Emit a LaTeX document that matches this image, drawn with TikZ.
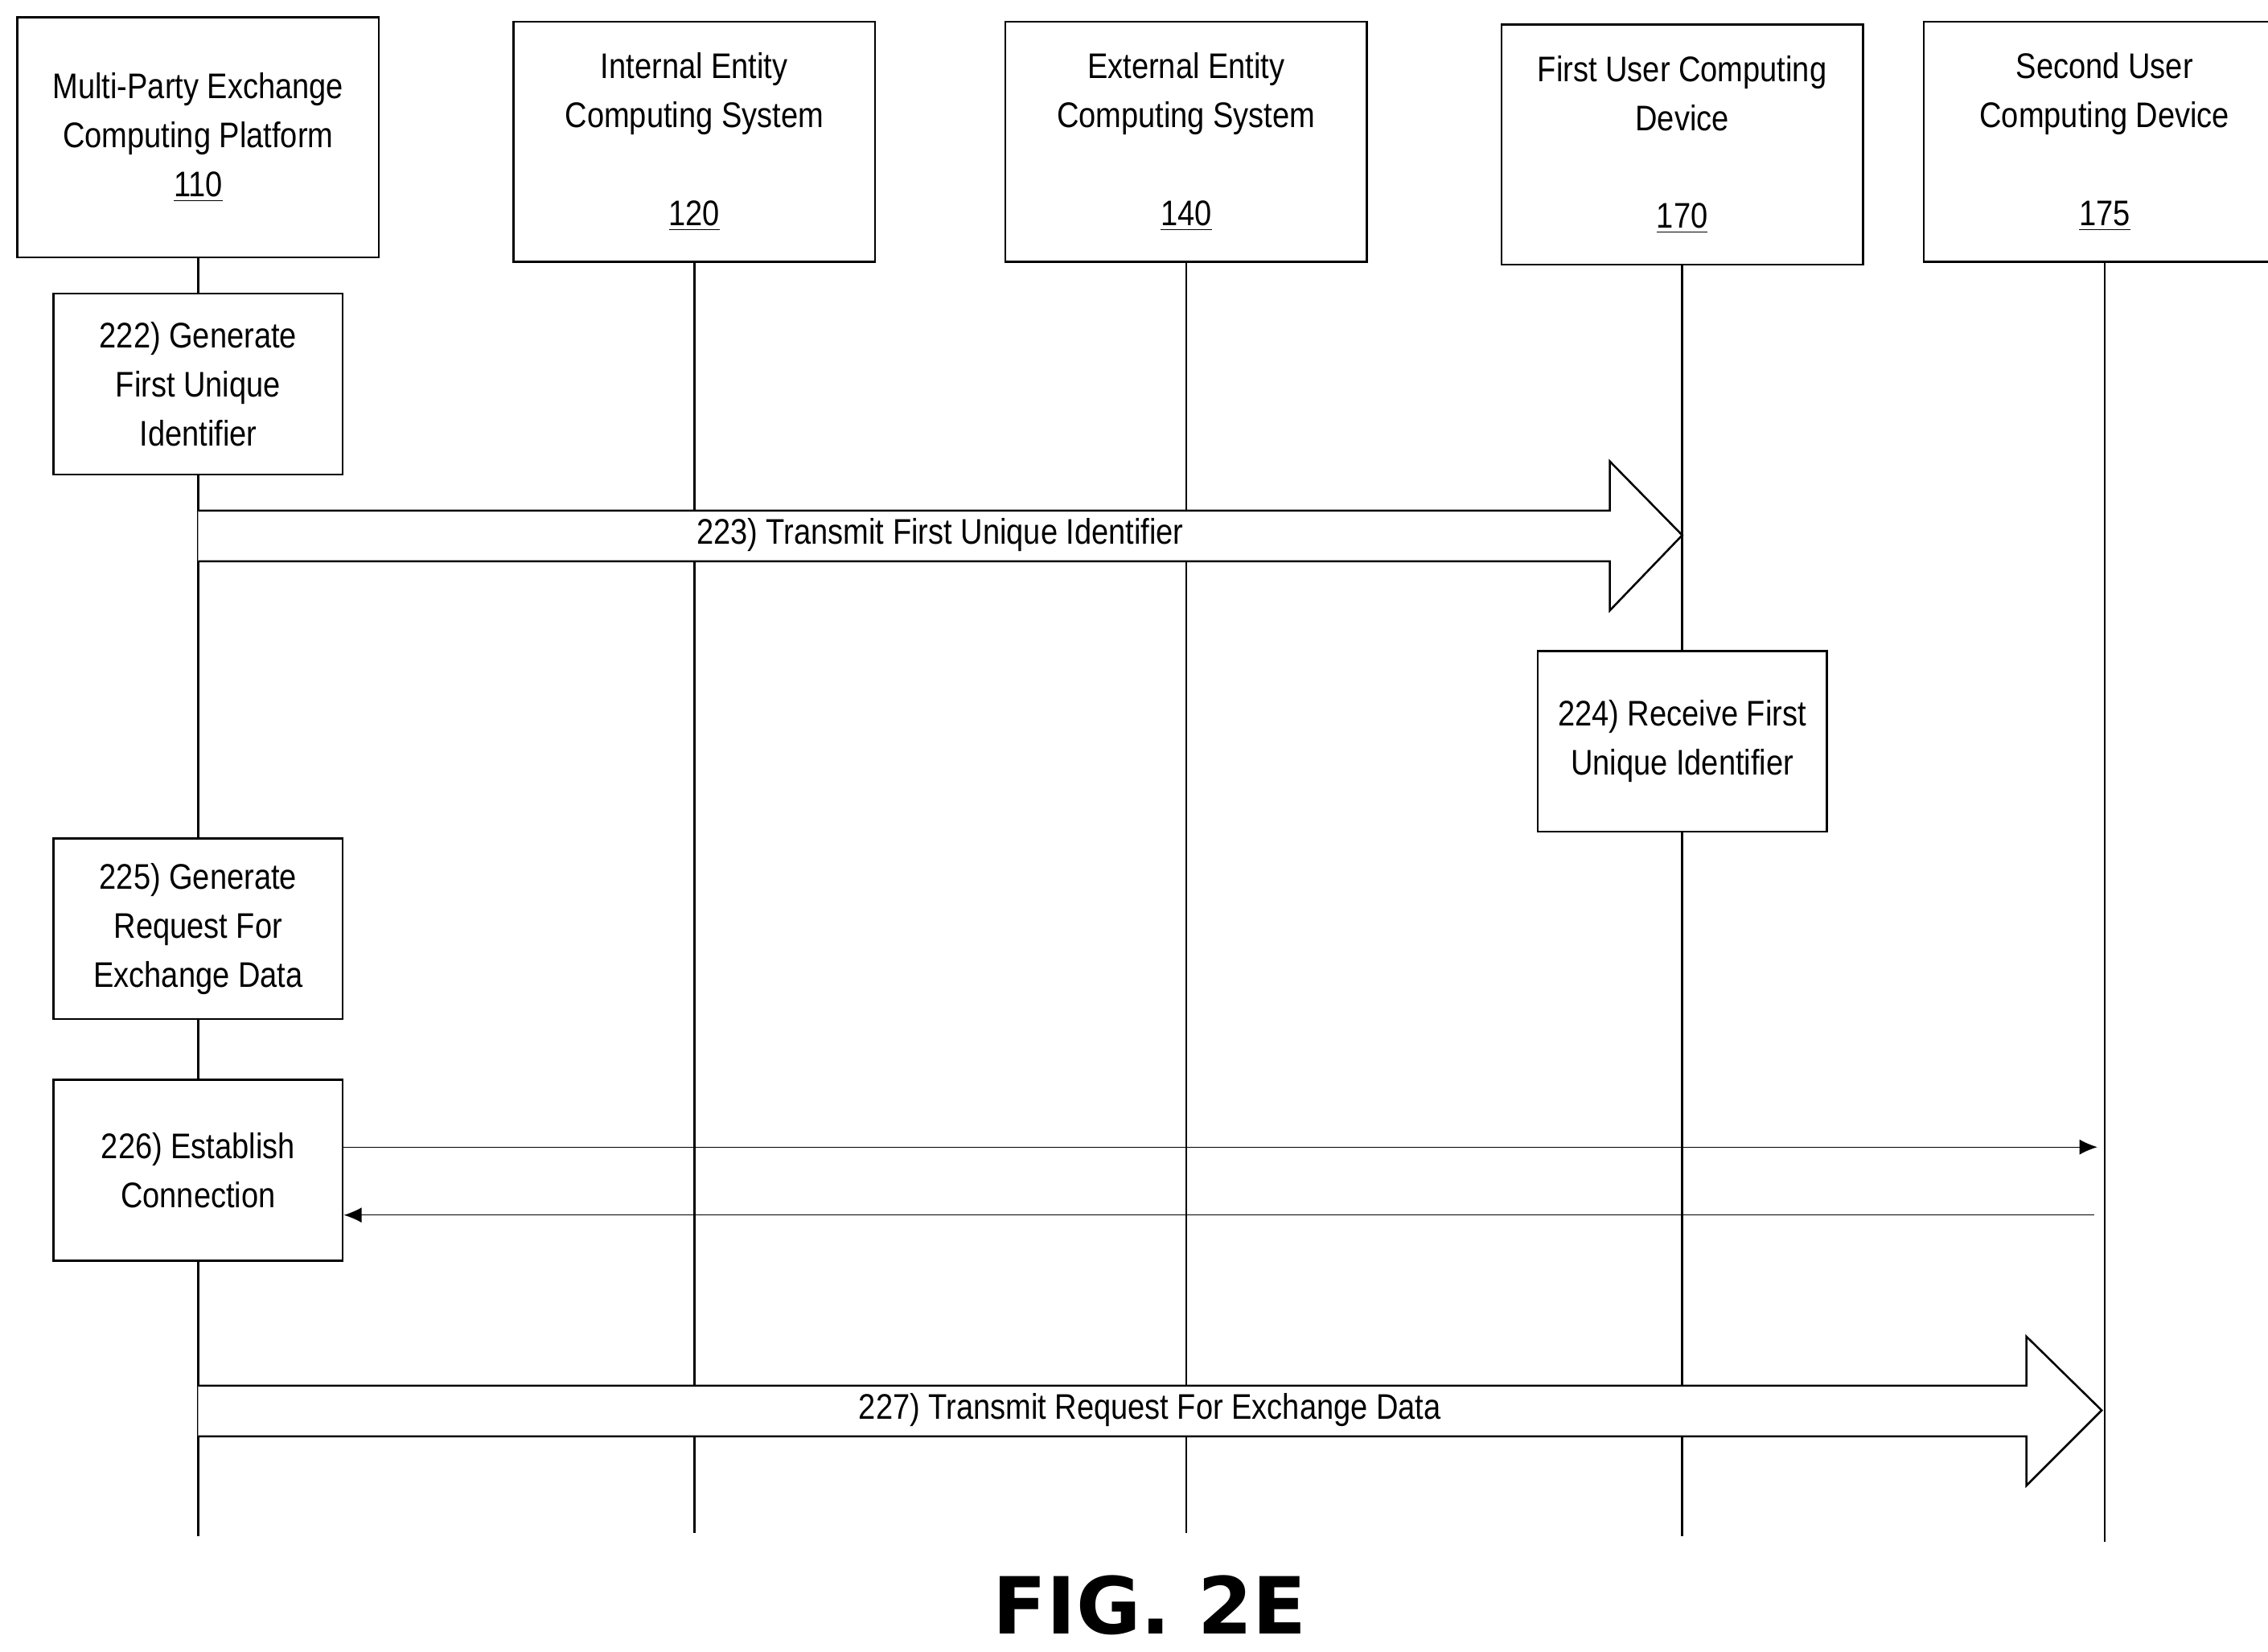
\documentclass[tikz,border=0pt]{standalone}
\usepackage{fontspec}
\setmainfont{Liberation Sans}[FakeStretch=0.86]
\newfontfamily\figfont{DejaVu Sans}
\usetikzlibrary{arrows.meta,calc}
\begin{document}
\begin{tikzpicture}[x=0.02cm,y=-0.02cm,
  every node/.style={font=\fontsize{14}{19.3}\selectfont,align=center},
  ent/.style={draw,line width=0.8pt,minimum width=5cm,minimum height=3.32cm,inner sep=0pt},
  stepbox/.style={draw,fill=white,line width=0.8pt,minimum width=4cm,minimum height=2.5cm,inner sep=0pt},
  life/.style={line width=0.8pt},
  blk/.style={draw,fill=white,line width=0.8pt,line join=miter},
  thin/.style={line width=0.4pt,-{Latex[length=7pt,width=6pt]}}]
\useasboundingbox (0,0) rectangle (1568,1142);
\node[ent] (e110) at (137,95) {Multi-Party Exchange\\Computing Platform\\\underline{110}};
\node[ent] (e120) at (480,98) {Internal Entity\\Computing System\\~\\\underline{120}};
\node[ent] (e140) at (820,98) {External Entity\\Computing System\\~\\\underline{140}};
\node[ent] (e170) at (1163,100) {First User Computing\\Device\\~\\\underline{170}};
\node[ent] (e175) at (1455,98) {Second User\\Computing Device\\~\\\underline{175}};
\coordinate (b110) at (137,1062);
\coordinate (b120) at (480,1060);
\coordinate (b140) at (820,1060);
\coordinate (b170) at (1163,1062);
\coordinate (b175) at (1455,1066);
\foreach \n in {110,120,140,170,175}{\draw[life] (e\n.south) -- (b\n);}
\node[stepbox] (s222) at (137,265.5) {222) Generate\\First Unique\\Identifier};
\node[stepbox] (s224) at (1163,512.5) {224) Receive First\\Unique Identifier};
\node[stepbox] (s225) at (137,642) {225) Generate\\Request For\\Exchange Data};
\node[stepbox] (s226) at (137,809) {226) Establish\\Connection};
% 223
\coordinate (a1) at (137,370);
\coordinate (t1) at (1163,370);
\path[blk] (a1|-0,353) -- (1113,353) -- (1113,319) -- (t1) -- (1113,422) -- (1113,388) -- (a1|-0,388);
\node (l223) at ($(a1)!0.5!(t1)$) {223) Transmit First Unique Identifier};
% 226 arrows
\coordinate (c1) at (1450,793);
\coordinate (c2) at (1448,840);
\draw[thin] (s226.east|-c1) -- (c1);
\draw[thin] (c2) -- (s226.east|-c2);
% 227
\coordinate (a2) at (137,975);
\coordinate (t2) at (1453,975);
\path[blk] (a2|-0,958) -- (1401,958) -- (1401,924) -- (t2) -- (1401,1027) -- (1401,993) -- (a2|-0,993);
\node (l227) at ($(a2)!0.5!(t2)$) {227) Transmit Request For Exchange Data};
\node[font=\figfont\bfseries\fontsize{31}{36}\selectfont] (fig) at (795,1110) {FIG. 2E};
\end{tikzpicture}
\end{document}
